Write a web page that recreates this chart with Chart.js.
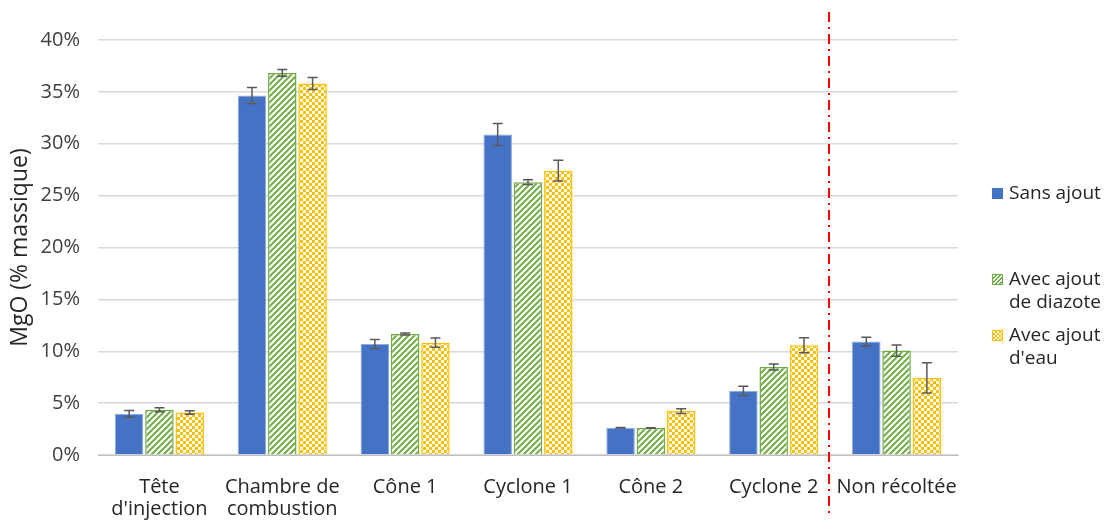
<!DOCTYPE html>
<html>
<head>
<meta charset="utf-8">
<script src="https://cdn.jsdelivr.net/npm/chart.js@4.4.1/dist/chart.umd.min.js"></script>
<style>
  body { margin: 0; background: #fff; }
  #wrap { position: relative; width: 1108px; height: 520px; }
  #legende { position: absolute; left: 990px; top: 181px; font-family: 'Open Sans', sans-serif; font-size: 19px; color: #262626; }
  .item { position: absolute; left: 0; white-space: nowrap; line-height: 23px; }
  .swatch { position: absolute; left: 2px; top: 7px; width: 11px; height: 11px; box-sizing: border-box; }
  .txt { position: absolute; left: 19px; top: 0; }
</style>
</head>
<body>
<div id="wrap">
  <canvas id="chart-mgo" width="1108" height="520"></canvas>
  <div id="legende">
    <div class="item" style="top:0px"><div class="swatch" style="background:#4472C4"></div><div class="txt">Sans ajout</div></div>
    <div class="item" style="top:86px"><div class="swatch" style="border:1px solid #70AD47;background:repeating-linear-gradient(135deg,#fff 0 1.5px,#70AD47 1.5px 3px)"></div><div class="txt">Avec ajout<br>de diazote</div></div>
    <div class="item" style="top:142px"><div class="swatch" style="border:1px solid #FFC000;background:conic-gradient(#FFC000 25%,#fff 0 50%,#FFC000 0 75%,#fff 0) 0 0/4px 4px"></div><div class="txt">Avec ajout<br>d'eau</div></div>
  </div>
</div>
<script>
// Catégories et valeurs (% massique de MgO)
const categories = [['Tête', "d'injection"], ['Chambre de', 'combustion'], 'Cône 1', 'Cyclone 1', 'Cône 2', 'Cyclone 2', 'Non récoltée'];
const sansAjout = [3.97, 34.64, 10.7, 30.9, 2.63, 6.18, 10.93];
const errSansAjout = [0.32, 0.77, 0.43, 1.06, 0.03, 0.45, 0.42];
const ajoutDiazote = [4.36, 36.83, 11.66, 26.3, 2.6, 8.49, 10.07];
const errDiazote = [0.2, 0.32, 0.1, 0.23, 0.03, 0.29, 0.54];
const ajoutEau = [4.1, 35.8, 10.83, 27.4, 4.23, 10.58, 7.43];
const errEau = [0.17, 0.58, 0.45, 1.0, 0.22, 0.73, 1.46];
const yTicks = [0, 5, 10, 15, 20, 25, 30, 35, 40];

// Motifs de remplissage
function motifRayures(couleur) {
  const c = document.createElement('canvas');
  c.width = 6; c.height = 6;
  const g = c.getContext('2d');
  g.fillStyle = '#fff';
  g.fillRect(0, 0, 6, 6);
  g.strokeStyle = couleur;
  g.lineWidth = 2;
  g.beginPath();
  g.moveTo(-1, 7); g.lineTo(7, -1);
  g.moveTo(-1, 1); g.lineTo(1, -1);
  g.moveTo(5, 7); g.lineTo(7, 5);
  g.stroke();
  return g.createPattern(c, 'repeat');
}

function motifDamier(couleur) {
  const c = document.createElement('canvas');
  c.width = 6; c.height = 6;
  const g = c.getContext('2d');
  g.fillStyle = '#fff';
  g.fillRect(0, 0, 6, 6);
  g.fillStyle = couleur;
  g.fillRect(0, 0, 3, 3);
  g.fillRect(3, 3, 3, 3);
  return g.createPattern(c, 'repeat');
}

// Barres d'erreur
const barresErreur = {
  id: 'barresErreur',
  afterDatasetsDraw(chart) {
    const ctx = chart.ctx;
    const y = chart.scales.y;
    ctx.save();
    ctx.strokeStyle = '#595959';
    ctx.lineWidth = 1.5;
    chart.data.datasets.forEach((ds, i) => {
      const meta = chart.getDatasetMeta(i);
      meta.data.forEach((bar, j) => {
        const v = ds.data[j];
        const e = ds.erreurs[j];
        const haut = y.getPixelForValue(v + e);
        const bas = y.getPixelForValue(v - e);
        ctx.beginPath();
        ctx.moveTo(bar.x, haut); ctx.lineTo(bar.x, bas);
        ctx.moveTo(bar.x - 5, haut); ctx.lineTo(bar.x + 5, haut);
        ctx.moveTo(bar.x - 5, bas); ctx.lineTo(bar.x + 5, bas);
        ctx.stroke();
      });
    });
    ctx.restore();
  }
};

// Ligne séparatrice rouge (trait-point)
const separateur = {
  id: 'separateur',
  afterDraw(chart) {
    const ctx = chart.ctx;
    const x = chart.scales.x.getPixelForValue(5.45);
    ctx.save();
    ctx.strokeStyle = '#FF0000';
    ctx.lineWidth = 2;
    ctx.setLineDash([10, 5, 2, 5]);
    ctx.beginPath();
    ctx.moveTo(x, 12);
    ctx.lineTo(x, 515);
    ctx.stroke();
    ctx.restore();
  }
};

const mgoCtx = document.getElementById('chart-mgo').getContext('2d');

new Chart(mgoCtx, {
  type: 'bar',
  data: {
    labels: categories,
    datasets: [
      {
        label: 'Sans ajout',
        data: sansAjout,
        erreurs: errSansAjout,
        backgroundColor: '#4472C4',
        borderColor: '#8FAADC',
        borderWidth: 1
      },
      {
        label: 'Avec ajout de diazote',
        data: ajoutDiazote,
        erreurs: errDiazote,
        backgroundColor: motifRayures('#70AD47'),
        borderColor: '#70AD47',
        borderWidth: 1.5
      },
      {
        label: "Avec ajout d'eau",
        data: ajoutEau,
        erreurs: errEau,
        backgroundColor: motifDamier('#FFC000'),
        borderColor: '#FFC000',
        borderWidth: 1.5
      }
    ]
  },
  options: {
    responsive: false,
    animation: false,
    layout: { padding: { top: 40, right: 150, left: 0, bottom: 0 } },
    plugins: {
      legend: { display: false },
      tooltip: { enabled: false }
    },
    datasets: {
      bar: { categoryPercentage: 0.74, barPercentage: 0.94 }
    },
    scales: {
      x: {
        grid: { display: false },
        border: { color: '#BFBFBF', width: 1 },
        afterFit: (scale) => { scale.height = 65; },
        ticks: {
          color: '#262626',
          font: { family: 'Open Sans', size: 20, lineHeight: 1.12 },
          maxRotation: 0,
          autoSkip: false,
          padding: 13
        }
      },
      y: {
        min: 0,
        max: 40,
        afterBuildTicks: (axis) => { axis.ticks = yTicks.map(v => ({ value: v })); },
        afterFit: (scale) => { scale.width = 98; },
        grid: { color: '#D9D9D9', lineWidth: 1.5, drawTicks: false },
        border: { display: false },
        ticks: {
          color: '#404040',
          font: { family: 'Open Sans', size: 20 },
          padding: 18,
          callback: (v) => v + '%'
        },
        title: {
          display: true,
          text: 'MgO (% massique)',
          color: '#262626',
          font: { family: 'Open Sans', size: 23, lineHeight: 1.2 },
          padding: { top: 7, bottom: 4 }
        }
      }
    }
  },
  plugins: [barresErreur, separateur]
});
</script>
</body>
</html>
